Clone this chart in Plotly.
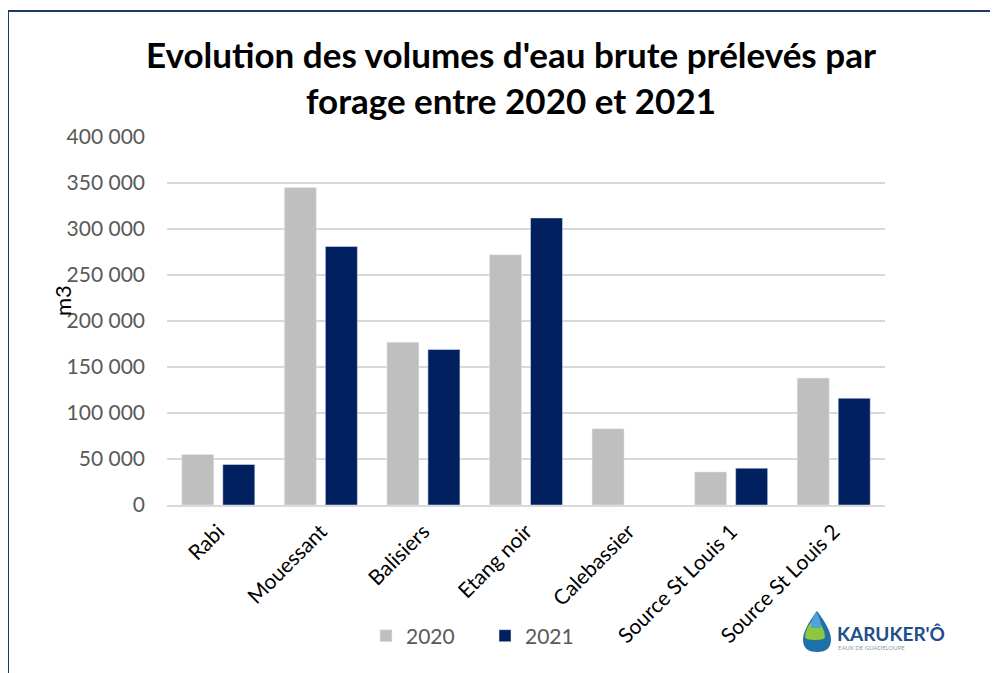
import plotly.graph_objects as go

# volumes prélevés (m3) par forage
forages = ["Rabi", "Mouessant", "Balisiers", "Etang noir", "Calebassier",
           "Source St Louis 1", "Source St Louis 2"]
vol_2020 = [55000, 345000, 177000, 272000, 83000, 36000, 138000]
vol_2021 = [44000, 281000, 169000, 312000, None, 40000, 116000]
y_ticks = [0, 50000, 100000, 150000, 200000, 250000, 300000, 350000, 400000]
y_tick_labels = ["0", "50 000", "100 000", "150 000", "200 000",
                 "250 000", "300 000", "350 000", "400 000"]

# the page body adds 8px around the figure
OFF = 8
W, H = 998 - OFF, 673 - OFF
ML, MR, MT, MB = 159, 113, 129, 168
PW, PH = W - ML - MR, H - MT - MB

FONT = "Lato, Carlito, Calibri, sans-serif"


# positions in screenshot pixels -> paper coords
def px_x(p):
    return (p - OFF - ML) / PW


def px_y(p):
    return (H - MB - (p - OFF)) / PH


fig = go.Figure()
fig.add_trace(go.Bar(name="2020", x=forages, y=vol_2020, marker_color="#BFBFBF"))
fig.add_trace(go.Bar(name="2021", x=forages, y=vol_2021, marker_color="#002060"))

fig.update_layout(
    width=W, height=H,
    margin=dict(l=ML, r=MR, t=MT, b=MB),
    paper_bgcolor="white", plot_bgcolor="white",
    barmode="group", bargap=0.2, bargroupgap=0.22,
    font=dict(family=FONT, size=21, color="#595959"),
    title=dict(
        text="Evolution des volumes d'eau brute prélevés par<br>forage entre 2020 et 2021",
        x=(511 - OFF) / W, xanchor="center", y=1 - 60 / H, yanchor="top",
        font=dict(family=FONT, size=35, color="black", weight="bold"),
    ),
    legend=dict(
        orientation="h", x=px_x(485), xanchor="center", y=px_y(636), yanchor="middle",
        font=dict(size=21, color="#595959"), itemwidth=30, entrywidth=74,
    ),
    showlegend=True,
)

fig.update_xaxes(
    tickangle=-45, tickfont=dict(color="black", size=21),
    showline=True, linecolor="#D9D9D9", linewidth=2,
    ticks="", ticklabelstandoff=4,
)
fig.update_yaxes(
    range=[0, 400000], tickvals=y_ticks, ticktext=y_tick_labels,
    showgrid=True, gridcolor="#D9D9D9", gridwidth=2,
    zeroline=False, ticks="", ticklabelstandoff=21,
    tickfont=dict(color="#595959", size=21),
)

# titre axe y
fig.add_annotation(
    text="m3", textangle=-90, showarrow=False,
    xref="paper", yref="paper", x=px_x(62), y=px_y(300),
    xanchor="center", yanchor="middle",
    font=dict(family=FONT, size=22, color="black"),
)

# cadre
fig.add_shape(
    type="rect", xref="paper", yref="paper",
    x0=px_x(8), x1=px_x(1100), y0=px_y(11), y1=px_y(760),
    line=dict(color="#1F3864", width=2), layer="below",
)


# logo Karuker'Ô (approximation)
def drop_path(cx, top, bottom, half_w):
    mid = (top + bottom) / 2 + 4
    return (f"M {px_x(cx)},{px_y(top)} "
            f"Q {px_x(cx + half_w)},{px_y(mid - 6)} {px_x(cx + half_w)},{px_y(mid + 4)} "
            f"Q {px_x(cx + half_w)},{px_y(bottom)} {px_x(cx)},{px_y(bottom)} "
            f"Q {px_x(cx - half_w)},{px_y(bottom)} {px_x(cx - half_w)},{px_y(mid + 4)} "
            f"Q {px_x(cx - half_w)},{px_y(mid - 6)} {px_x(cx)},{px_y(top)} Z")


fig.add_shape(type="path", xref="paper", yref="paper",
              path=drop_path(817, 611, 652, 14), fillcolor="#1F6FA8", line_width=0)
fig.add_shape(type="path", xref="paper", yref="paper",
              path=drop_path(815, 618, 640, 10), fillcolor="#8DC63F", line_width=0)
fig.add_shape(type="path", xref="paper", yref="paper",
              path=drop_path(816, 612, 628, 5), fillcolor="#4FA3D9", line_width=0)
fig.add_annotation(
    text="<b>KARUKER'Ô</b>", showarrow=False, xref="paper", yref="paper",
    x=px_x(835), y=px_y(633), xanchor="left", yanchor="middle",
    font=dict(family=FONT, size=19, color="#1F4E8C"),
)
fig.add_annotation(
    text="EAUX DE GUADELOUPE", showarrow=False, xref="paper", yref="paper",
    x=px_x(836), y=px_y(647), xanchor="left", yanchor="middle",
    font=dict(family=FONT, size=6, color="#8C9BA8"),
)

fig.write_html("out.html")
